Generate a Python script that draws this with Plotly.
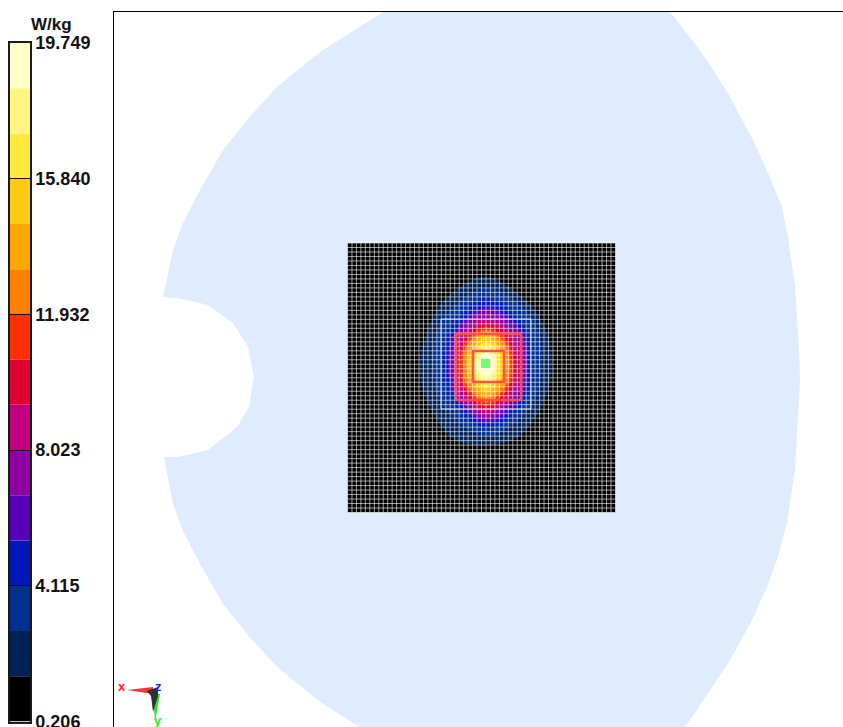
import math
import plotly.graph_objects as go

# --- colour scale -----------------------------------------------------------
unit = "W/kg"
scale_ticks = [0.206, 4.115, 8.023, 11.932, 15.840, 19.749]
scale_tick_labels = ["0.206", "4.115", "8.023", "11.932", "15.840", "19.749"]
band_edges = [0.206, 1.509, 2.812, 4.115, 5.418, 6.720, 8.023, 9.326, 10.629,
              11.932, 13.235, 14.537, 15.840, 17.143, 18.446, 19.749]
band_colors = ["#000000", "#002058", "#003090", "#0018B8", "#5800B8", "#9000A0",
               "#C00080", "#E00030", "#FF3000", "#FF8000", "#FFA800", "#FFCC14",
               "#FFE93C", "#FFF580", "#FFFFC8"]

# --- phantom outline --------------------------------------------------------
phantom_x = [395, 383, 320, 277, 247, 223, 200, 183, 173, 163,
             178, 208, 233, 248, 254, 249, 237, 208, 178, 164,
             173, 183, 200, 223, 247, 277, 320, 383,
             675, 685, 707, 730, 752, 767, 778, 787, 795, 798, 800,
             799, 795, 788, 782, 768, 753, 730, 707, 683, 670, 660]
phantom_y = [4, 12, 52, 87, 120, 150, 190, 223, 250, 297,
             298, 305, 323, 347, 377, 407, 427, 450, 457, 457,
             504, 531, 564, 604, 634, 667, 702, 742,
             740, 727, 695, 660, 620, 587, 557, 523, 470, 423, 380,
             347, 287, 237, 207, 173, 140, 97, 60, 28, 12, 4]

# --- measurement area -------------------------------------------------------
area_x = [347.5, 615.5]
area_y = [243.0, 512.5]
area_cells = 60
field_center = [486, 364]

# iso-band radii, counter-clockwise from +x, one list per band above black
band_radii = [
    [66, 68, 72, 78, 87, 80, 72, 66, 66, 68, 73, 82, 81, 80, 72, 67],
    [56, 65, 76, 62, 54, 60, 72, 62],
    [46, 54, 66, 50, 43, 50, 64, 54],
    [42, 49, 57, 45, 38, 45, 59, 49],
    [39, 44, 52, 41, 34, 41, 55, 44],
    [34, 39, 46, 37, 31, 38, 50, 40],
    [31, 35, 41, 33, 28, 34, 46, 36],
    [27, 31, 37, 30, 26, 31, 42, 32],
    [24, 28, 34, 27, 23, 28, 38, 29],
    [21, 25, 31, 24, 20, 24, 34, 25],
    [18, 21, 27, 20, 17, 20, 29, 21],
    [14, 17, 22, 16, 14, 17, 24, 17],
    [11, 13, 17, 12, 11, 13, 18, 13],
    [8, 9, 12, 9, 8, 10, 14, 10],
]

# --- scan boxes: x0, x1, y0, y1 --------------------------------------------
white_box = [441, 531, 319, 409]
red_box_large = [456, 521, 334, 400]
red_box_small = [473, 504, 351, 382]
peak_box = [481, 490, 359, 368]

# --- orientation triad ------------------------------------------------------
triad_red_x = [127, 153, 153]
triad_red_y = [690, 687, 694]
triad_green_x = [153, 160, 155]
triad_green_y = [694, 694, 722]
triad_hub_x = [147, 158, 158, 153, 151]
triad_hub_y = [691, 687, 696, 712, 696]

fig = go.Figure()

# Phantom
fig.add_trace(go.Scatter(x=phantom_x, y=phantom_y, mode="lines", fill="toself",
                         fillcolor="#DFEBFF", line=dict(width=0), hoverinfo="skip",
                         xaxis="x", yaxis="y"))
# Black scan area
fig.add_trace(go.Scatter(x=[area_x[0], area_x[1], area_x[1], area_x[0], area_x[0]],
                         y=[area_y[0], area_y[0], area_y[1], area_y[1], area_y[0]],
                         mode="lines", fill="toself", fillcolor=band_colors[0],
                         line=dict(width=0), hoverinfo="skip"))
# Iso-bands
for radii, color in zip(band_radii, band_colors[1:]):
    n = len(radii)
    xs, ys = [], []
    for i, r in enumerate(radii + radii[:1]):
        a = 2 * math.pi * i / n
        xs.append(field_center[0] + r * math.cos(a))
        ys.append(field_center[1] - r * math.sin(a))
    fig.add_trace(go.Scatter(x=xs, y=ys, mode="lines", fill="toself", fillcolor=color,
                             line=dict(width=0, shape="spline", smoothing=1.0),
                             hoverinfo="skip"))
# Grid
gx, gy = [], []
for i in range(area_cells + 1):
    px = area_x[0] + (area_x[1] - area_x[0]) * i / area_cells
    py = area_y[0] + (area_y[1] - area_y[0]) * i / area_cells
    gx += [px, px, None, area_x[0], area_x[1], None]
    gy += [area_y[0], area_y[1], None, py, py, None]
fig.add_trace(go.Scatter(x=gx, y=gy, mode="lines", hoverinfo="skip",
                         line=dict(color="rgba(255,255,255,0.6)", width=1)))
# Triad
for tx, ty, col in [(triad_red_x, triad_red_y, "#E83838"),
                    (triad_green_x, triad_green_y, "#30E030"),
                    (triad_hub_x, triad_hub_y, "#303030")]:
    fig.add_trace(go.Scatter(x=tx + tx[:1], y=ty + ty[:1], mode="lines", fill="toself",
                             fillcolor=col, line=dict(width=0), hoverinfo="skip"))
# Colour bar
for lo, hi, col in zip(band_edges[:-1], band_edges[1:], band_colors):
    fig.add_trace(go.Bar(x=[0.5], y=[hi - lo], base=[lo], width=1, marker=dict(color=col, line=dict(width=0)),
                         xaxis="x2", yaxis="y2", hoverinfo="skip"))


def rect(box, **kw):
    return dict(type="rect", x0=box[0], x1=box[1], y0=box[2], y1=box[3],
                xref="x", yref="y", layer="above", **kw)


shapes = [
    rect(white_box, line=dict(color="rgba(235,240,255,0.85)", width=1)),
    rect(red_box_large, line=dict(color="#FF5050", width=2.5)),
    rect(red_box_small, line=dict(color="#FF5050", width=2.5)),
    rect(peak_box, fillcolor="#70FF70", line=dict(width=0)),
]

W, H = 843, 727
annotations = [
    dict(text=unit, x=51 / W, y=1 - 24 / H, xref="paper", yref="paper", showarrow=False,
         xanchor="center", yanchor="middle",
         font=dict(size=17, color="#111111", family="Liberation Sans", weight="bold")),
    dict(text="x", x=122, y=686, xref="x", yref="y", showarrow=False,
         font=dict(color="#FF2020", size=13, family="Liberation Sans", weight="bold")),
    dict(text="z", x=158, y=686, xref="x", yref="y", showarrow=False,
         font=dict(color="#2020FF", size=13, family="Liberation Sans", weight="bold")),
    dict(text="y", x=158, y=720, xref="x", yref="y", showarrow=False,
         font=dict(color="#20F020", size=13, family="Liberation Sans", weight="bold")),
]

fig.update_layout(
    width=W, height=H, margin=dict(l=0, r=0, t=0, b=0, autoexpand=False),
    paper_bgcolor="white", plot_bgcolor="white", showlegend=False, barmode="overlay",
    shapes=shapes, annotations=annotations,
    font=dict(family="Liberation Sans", size=18, color="#111111"),
    xaxis=dict(domain=[113.5 / W, 1], range=[113.5, W], side="top", showgrid=False,
               zeroline=False, showticklabels=False, ticks="", showline=True, linecolor="#000000", linewidth=1),
    yaxis=dict(domain=[0, 1 - 12 / H], range=[H, 12], showgrid=False, zeroline=False,
               showticklabels=False, ticks="", showline=True, linecolor="#000000", linewidth=1),
    xaxis2=dict(domain=[9.5 / W, 30 / W], range=[0, 1], anchor="y2", showgrid=False, zeroline=False,
                showticklabels=False, ticks="", showline=True, mirror=True, linecolor="#1a1a1a", linewidth=1.5),
    yaxis2=dict(domain=[1 - 721.5 / H, 1 - 43 / H], range=[band_edges[0], band_edges[-1]], anchor="x2", side="right",
                tickmode="array", tickvals=scale_ticks, ticktext=scale_tick_labels, ticks="inside",
                ticklen=21, tickcolor="#111111", tickwidth=1, layer="above traces", showgrid=False,
                ticklabeloverflow="allow",
                zeroline=False, showline=True, mirror=True, linecolor="#1a1a1a", linewidth=1.5,
                tickfont=dict(size=18, color="#111111", family="Liberation Sans", weight="bold")),
)

fig.write_html("out.html", config=dict(displayModeBar=False), post_script="document.body.style.margin='0';")
